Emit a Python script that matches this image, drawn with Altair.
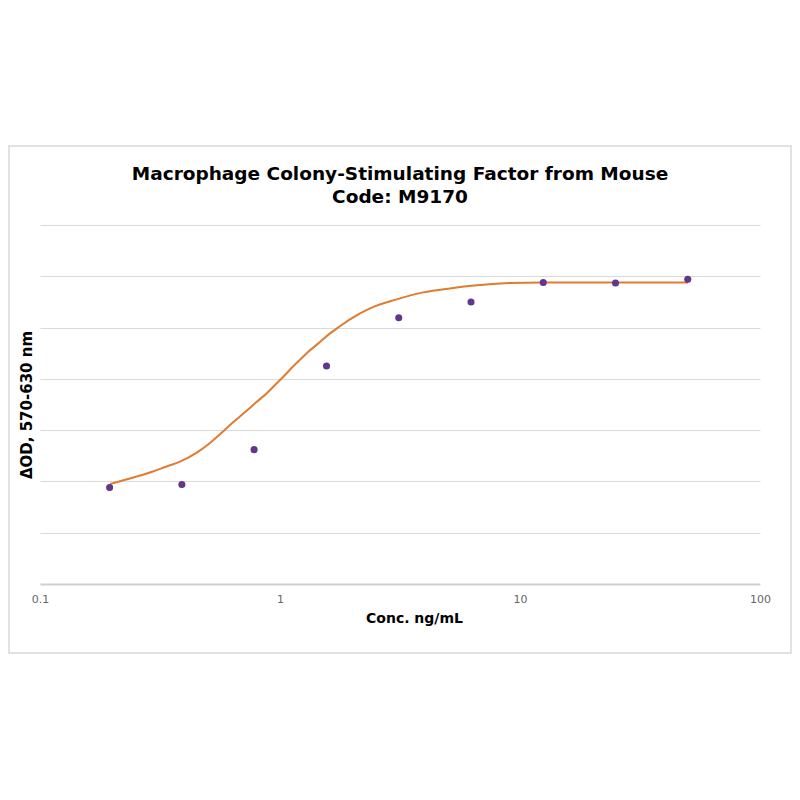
import altair as alt
import pandas as pd

# Measured points
conc = [0.195, 0.39, 0.78, 1.5625, 3.125, 6.25, 12.5, 25, 50]
od = [0.188, 0.194, 0.262, 0.425, 0.519, 0.550, 0.588, 0.587, 0.594]

# Fitted curve
curve_x = [0.196, 0.237, 0.287, 0.337, 0.383, 0.450, 0.511, 0.562, 0.629, 0.681,
           0.738, 0.800, 0.874, 0.953, 1.032, 1.119, 1.212, 1.312, 1.444, 1.616,
           1.750, 1.957, 2.371, 3.064, 3.955, 5.109, 6.813, 8.25, 12.56, 21.5, 50.1]
curve_y = [0.195, 0.2058, 0.2175, 0.2292, 0.2386, 0.2563, 0.2749, 0.2920, 0.3129, 0.3265,
           0.3405, 0.3554, 0.3704, 0.3879, 0.4041, 0.4216, 0.4375, 0.4528, 0.4692, 0.4887,
           0.5004, 0.516, 0.5374, 0.555, 0.5686, 0.5764, 0.5828, 0.586, 0.588, 0.588, 0.588]

x_ticks = [0.1, 1, 10, 100]
y_grid = [0.1, 0.2, 0.3, 0.4, 0.5, 0.6, 0.7]

pts = pd.DataFrame({"x": conc, "y": od})
crv = pd.DataFrame({"x": curve_x, "y": curve_y})

xscale = alt.Scale(type="log", domain=[0.1, 100])
yscale = alt.Scale(domain=[0, 0.7])

xaxis = alt.Axis(values=x_ticks, format="~g", grid=False, ticks=False,
                 domainColor="#d0d0d0", domainWidth=2,
                 labelFont="DejaVu Sans", labelFontSize=11, labelColor="#666666",
                 labelPadding=9, labelFlush=False,
                 title="Conc. ng/mL", titleFont="DejaVu Sans", titleFontSize=14,
                 titleFontWeight="bold", titleColor="black", titlePadding=7,
                 titleX=374)
yaxis = alt.Axis(values=y_grid, grid=True, gridColor="#dadada", gridWidth=1.2,
                 ticks=False, labels=False, domain=False,
                 title="ΔOD, 570-630 nm", titleFont="DejaVu Sans", titleFontSize=15,
                 titleFontWeight="bold", titleColor="black", titlePadding=6)

frame = alt.Chart(pd.DataFrame({"a": [0]})).mark_rect(
    fill=None, stroke="#d9d9d9", strokeWidth=1.5
).encode(x=alt.value(-31), x2=alt.value(751), y=alt.value(-79), y2=alt.value(428))

line = alt.Chart(crv).mark_line(color="#e07b30", strokeWidth=2, interpolate="monotone").encode(
    x=alt.X("x:Q", scale=xscale, axis=xaxis),
    y=alt.Y("y:Q", scale=yscale, axis=yaxis),
)

points = alt.Chart(pts).mark_point(filled=True, color="#60378d", size=50, opacity=1).encode(
    x=alt.X("x:Q", scale=xscale),
    y=alt.Y("y:Q", scale=yscale),
)

chart = alt.layer(frame, line, points).properties(
    width=720, height=359,
    background="white",
    autosize=alt.AutoSizeParams(type="none"),
    padding={"left": 32, "top": 217, "right": 32, "bottom": 80},
    title=alt.TitleParams(
        text=["Macrophage Colony-Stimulating Factor from Mouse", "Code: M9170"],
        font="DejaVu Sans", fontSize=18.5, fontWeight="bold", color="black",
        anchor="middle", offset=-61, lineHeight=23,
    ),
).configure_view(stroke="transparent", strokeWidth=0)

chart.save("out.html", embed_options={"renderer": "svg", "actions": False})
